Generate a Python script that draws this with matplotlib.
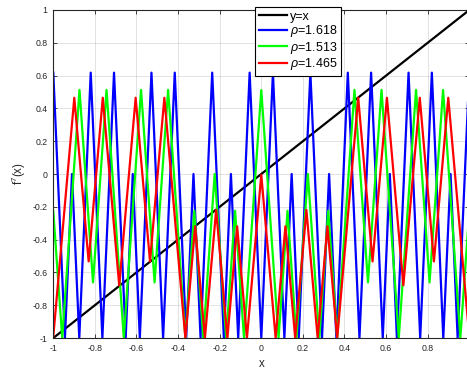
import matplotlib
matplotlib.use('Agg')
import matplotlib.pyplot as plt

plt.rcParams['font.family'] = ['Liberation Sans', 'DejaVu Sans']
plt.rcParams['mathtext.fontset'] = 'custom'
plt.rcParams['mathtext.rm'] = 'Liberation Sans'
plt.rcParams['mathtext.it'] = 'Liberation Sans:italic'

# f^7(x) vertices (each curve is a zigzag)
x_line = [-1, 1]
y_line = [-1, 1]

x_b = [-1, -0.944, -0.910, -0.875, -0.820, -0.764, -0.708, -0.652, -0.618, -0.584, -0.528,
       -0.472, -0.416, -0.361, -0.326, -0.292, -0.236, -0.180, -0.146, -0.111, -0.056,
       0, 0.056, 0.111, 0.146, 0.180, 0.236, 0.292, 0.326, 0.361, 0.416, 0.472, 0.528,
       0.584, 0.618, 0.652, 0.708, 0.764, 0.820, 0.875, 0.910, 0.944, 1]
y_b = [0.618, -1, 0, -1, 0.618, -1, 0.618, -1, 0, -1, 0.618,
       -1, 0.618, -1, 0, -1, 0.618, -1, 0, -1, 0.618,
       -1, 0.618, -1, 0, -1, 0.618, -1, 0, -1, 0.618, -1, 0.618,
       -1, 0, -1, 0.618, -1, 0.618, -1, 0, -1, 0.618]

x_g = [-1, -0.957, -0.874, -0.809, -0.744, -0.661, -0.578, -0.513, -0.448, -0.365, -0.322,
       -0.279, -0.224, -0.169, -0.126, -0.083,
       0, 0.083, 0.126, 0.169, 0.224, 0.279, 0.322, 0.365, 0.448, 0.513, 0.578, 0.661,
       0.744, 0.809, 0.874, 0.957, 1]
y_g = [-0.226, -1, 0.513, -0.661, 0.513, -1, 0.513, -0.661, 0.513, -1, -0.224,
       -1, 0.001, -1, -0.224, -1,
       0.512, -1, -0.224, -1, 0.001, -1, -0.224, -1, 0.513, -0.661, 0.513, -1,
       0.513, -0.661, 0.513, -1, -0.226]

x_r = [-1, -0.899, -0.830, -0.762, -0.683, -0.604, -0.535, -0.466, -0.365, -0.318, -0.271,
       -0.217, -0.163, -0.116, -0.069,
       0, 0.069, 0.116, 0.163, 0.217, 0.271, 0.318, 0.365, 0.466, 0.535, 0.604, 0.683,
       0.762, 0.830, 0.899, 1]
y_r = [-0.992, 0.465, -0.533, 0.465, -0.679, 0.465, -0.533, 0.465, -1, -0.319, -1,
       -0.219, -1, -0.319, -1,
       -0.005, -1, -0.319, -1, -0.219, -1, -0.319, -1, 0.465, -0.533, 0.465, -0.679,
       0.465, -0.533, 0.465, -0.992]

labels = ['y=x', r'$\rho$=1.618', r'$\rho$=1.513', r'$\rho$=1.465']
ticks = [-1, -0.8, -0.6, -0.4, -0.2, 0, 0.2, 0.4, 0.6, 0.8, 1]
ytick_labels = ['-1', '-0.8', '-0.6', '-0.4', '-0.2', '0', '0.2', '0.4', '0.6', '0.8', '1']
xtick_labels = ['-1', '-0.8', '-0.6', '-0.4', '-0.2', '0', '0.2', '0.4', '0.6', '0.8', '']  # '1' falls off the right edge

fig = plt.figure(figsize=(4.67, 3.73), dpi=100)
ax = fig.add_axes([0.1141, 0.0938, 0.8908, 0.8794])

lw = 1.6
ax.plot(x_line, y_line, color='k', lw=lw, label=labels[0])
ax.plot(x_b, y_b, color=(0, 0, 1), lw=lw, label=labels[1])
ax.plot(x_g, y_g, color=(0, 1, 0), lw=lw, label=labels[2])
ax.plot(x_r, y_r, color=(1, 0, 0), lw=lw, label=labels[3])

ax.set_xlim(-1, 1)
ax.set_ylim(-1, 1)
ax.set_xticks(ticks)
ax.set_xticklabels(xtick_labels)
ax.set_yticks(ticks)
ax.set_yticklabels(ytick_labels)
ax.grid(True, color=(0.15, 0.15, 0.15), alpha=0.15, lw=0.6)
ax.tick_params(direction='in', length=3, width=0.6, top=True, right=True,
               labelsize=6.3, colors=(0.15, 0.15, 0.15), pad=4)
for s in ax.spines.values():
    s.set_color((0.15, 0.15, 0.15))
    s.set_linewidth(0.8)

ax.set_xlabel('x', fontsize=8.3, color=(0.15, 0.15, 0.15), labelpad=4)
ax.set_ylabel('f$^{7}$(x)', fontsize=8.3, color=(0.15, 0.15, 0.15), labelpad=3)

leg = ax.legend(loc='upper left', bbox_to_anchor=(255 / 467, 1 - 7.3 / 373),
                bbox_transform=fig.transFigure, borderaxespad=0, fontsize=9,
                fancybox=False, framealpha=1, edgecolor='k', handlelength=2.25,
                handletextpad=0.3, labelspacing=0.04, borderpad=0.28)
leg.get_frame().set_linewidth(0.8)

fig.savefig('out.png', dpi=100)
